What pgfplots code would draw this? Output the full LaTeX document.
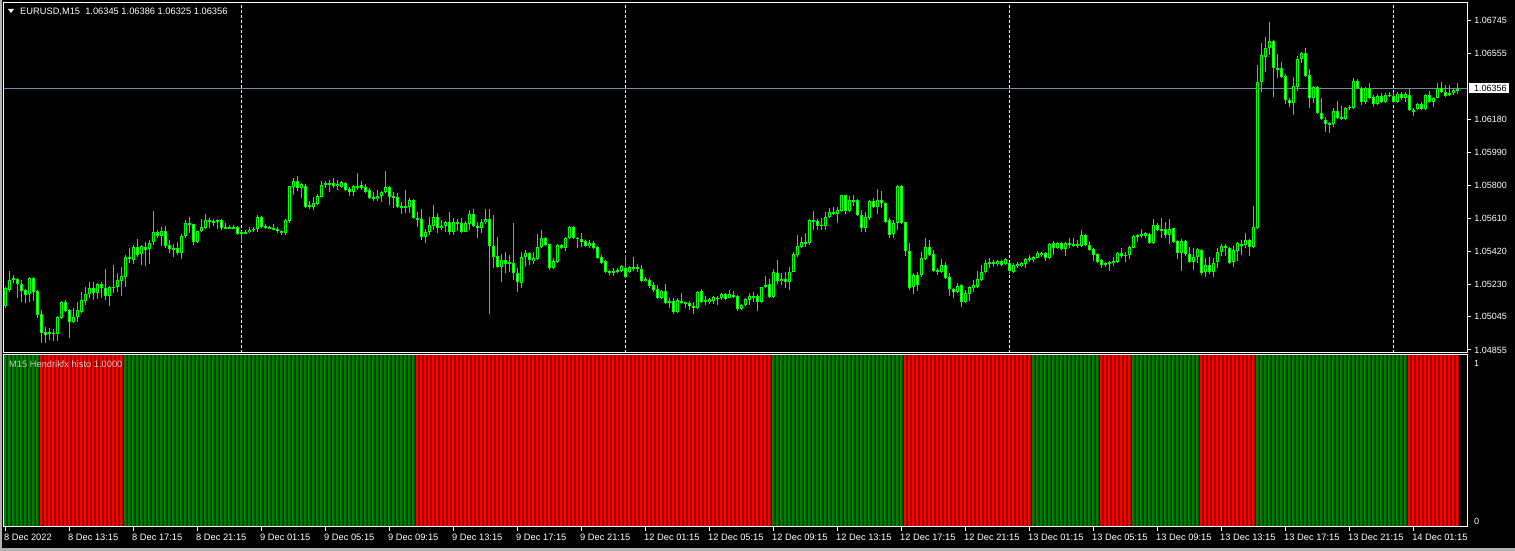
\documentclass[border=0pt]{standalone}
\usepackage{pgfplots}
\usepackage{pgfplotstable}
\usepackage{fontspec}
\setmainfont{Liberation Sans}
\pgfplotsset{compat=1.18}
\definecolor{lime}{RGB}{0,255,0}
\definecolor{hgreen}{RGB}{0,128,0}
\definecolor{hred}{RGB}{255,0,0}
\definecolor{pline}{RGB}{119,136,153}
\definecolor{lbl}{RGB}{205,205,205}
\pgfplotstableread{
i O H L C up
0 1.05108 1.05217 1.05096 1.05211 1
1 1.05199 1.05308 1.05188 1.05257 1
2 1.05257 1.05285 1.05240 1.05268 1
3 1.05263 1.05268 1.05154 1.05234 1
4 1.05234 1.05257 1.05131 1.05194 1
5 1.05199 1.05205 1.05125 1.05171 1
6 1.05176 1.05274 1.05131 1.05268 1
7 1.05268 1.05274 1.05136 1.05188 1
8 1.05194 1.05199 1.05039 1.05056 1
9 1.05062 1.05085 1.04896 1.04953 0
10 1.04958 1.04987 1.04896 1.04941 0
11 1.04947 1.04981 1.04913 1.04958 0
12 1.04953 1.04976 1.04907 1.04947 0
13 1.04947 1.05050 1.04907 1.05044 0
14 1.05039 1.05136 1.05033 1.05131 0
15 1.05131 1.05142 1.05073 1.05079 0
16 1.05085 1.05090 1.04924 1.05016 0
17 1.05016 1.05096 1.05010 1.05044 0
18 1.05044 1.05131 1.05016 1.05085 0
19 1.05073 1.05188 1.05067 1.05142 0
20 1.05136 1.05217 1.05113 1.05176 0
21 1.05176 1.05245 1.05154 1.05211 0
22 1.05211 1.05245 1.05142 1.05182 0
23 1.05182 1.05240 1.05148 1.05234 0
24 1.05234 1.05245 1.05154 1.05211 0
25 1.05211 1.05320 1.05142 1.05165 0
26 1.05165 1.05222 1.05108 1.05217 0
27 1.05217 1.05343 1.05182 1.05211 0
28 1.05217 1.05297 1.05188 1.05257 0
29 1.05251 1.05331 1.05165 1.05280 0
30 1.05274 1.05400 1.05217 1.05389 1
31 1.05389 1.05441 1.05354 1.05377 1
32 1.05372 1.05458 1.05349 1.05446 1
33 1.05446 1.05492 1.05389 1.05400 1
34 1.05406 1.05458 1.05343 1.05452 1
35 1.05446 1.05475 1.05337 1.05429 1
36 1.05435 1.05486 1.05349 1.05469 1
37 1.05475 1.05653 1.05458 1.05532 1
38 1.05532 1.05544 1.05498 1.05509 1
39 1.05509 1.05561 1.05452 1.05538 1
40 1.05538 1.05567 1.05441 1.05452 1
41 1.05458 1.05486 1.05412 1.05435 1
42 1.05435 1.05463 1.05389 1.05441 1
43 1.05441 1.05475 1.05400 1.05412 1
44 1.05412 1.05521 1.05377 1.05509 1
45 1.05509 1.05601 1.05498 1.05584 1
46 1.05584 1.05618 1.05527 1.05578 1
47 1.05578 1.05578 1.05458 1.05475 1
48 1.05475 1.05538 1.05469 1.05538 1
49 1.05538 1.05607 1.05532 1.05561 1
50 1.05555 1.05636 1.05550 1.05601 1
51 1.05601 1.05613 1.05555 1.05590 1
52 1.05595 1.05607 1.05567 1.05590 1
53 1.05590 1.05607 1.05550 1.05601 1
54 1.05601 1.05607 1.05544 1.05555 1
55 1.05561 1.05584 1.05550 1.05555 1
56 1.05555 1.05573 1.05555 1.05561 1
57 1.05561 1.05573 1.05550 1.05555 1
58 1.05561 1.05567 1.05515 1.05521 1
59 1.05532 1.05538 1.05469 1.05527 1
60 1.05527 1.05544 1.05521 1.05532 1
61 1.05532 1.05561 1.05527 1.05544 1
62 1.05544 1.05561 1.05532 1.05550 1
63 1.05550 1.05630 1.05532 1.05618 1
64 1.05618 1.05624 1.05555 1.05561 1
65 1.05567 1.05578 1.05550 1.05561 1
66 1.05561 1.05567 1.05550 1.05555 1
67 1.05555 1.05578 1.05544 1.05550 1
68 1.05550 1.05561 1.05527 1.05538 1
69 1.05538 1.05544 1.05515 1.05527 1
70 1.05527 1.05607 1.05515 1.05601 1
71 1.05595 1.05796 1.05584 1.05796 1
72 1.05791 1.05842 1.05745 1.05825 1
73 1.05825 1.05854 1.05768 1.05785 1
74 1.05785 1.05814 1.05727 1.05808 1
75 1.05796 1.05808 1.05670 1.05676 1
76 1.05676 1.05710 1.05664 1.05687 1
77 1.05676 1.05733 1.05659 1.05699 1
78 1.05693 1.05750 1.05687 1.05739 1
79 1.05733 1.05825 1.05733 1.05802 1
80 1.05808 1.05825 1.05785 1.05814 1
81 1.05814 1.05831 1.05762 1.05808 1
82 1.05814 1.05842 1.05785 1.05796 1
83 1.05796 1.05831 1.05773 1.05808 1
84 1.05791 1.05825 1.05785 1.05819 1
85 1.05814 1.05819 1.05768 1.05773 1
86 1.05779 1.05791 1.05739 1.05762 1
87 1.05762 1.05802 1.05739 1.05796 1
88 1.05796 1.05871 1.05773 1.05791 1
89 1.05802 1.05825 1.05773 1.05785 1
90 1.05791 1.05808 1.05756 1.05762 1
91 1.05773 1.05785 1.05722 1.05727 1
92 1.05727 1.05762 1.05710 1.05733 1
93 1.05722 1.05773 1.05710 1.05739 1
94 1.05739 1.05768 1.05705 1.05762 1
95 1.05762 1.05882 1.05756 1.05791 1
96 1.05791 1.05796 1.05687 1.05733 1
97 1.05733 1.05762 1.05670 1.05739 1
98 1.05733 1.05756 1.05670 1.05676 1
99 1.05682 1.05705 1.05636 1.05676 1
100 1.05676 1.05773 1.05641 1.05682 1
101 1.05676 1.05727 1.05641 1.05716 1
102 1.05716 1.05722 1.05607 1.05613 1
103 1.05613 1.05647 1.05561 1.05607 0
104 1.05607 1.05664 1.05486 1.05504 0
105 1.05504 1.05550 1.05469 1.05532 0
106 1.05532 1.05618 1.05515 1.05573 0
107 1.05567 1.05687 1.05544 1.05618 0
108 1.05618 1.05641 1.05527 1.05555 0
109 1.05555 1.05601 1.05544 1.05567 0
110 1.05567 1.05595 1.05532 1.05590 0
111 1.05590 1.05647 1.05515 1.05532 0
112 1.05532 1.05613 1.05515 1.05590 0
113 1.05590 1.05607 1.05538 1.05584 0
114 1.05584 1.05613 1.05527 1.05532 0
115 1.05532 1.05595 1.05532 1.05584 0
116 1.05578 1.05659 1.05544 1.05636 0
117 1.05636 1.05664 1.05561 1.05567 0
118 1.05567 1.05590 1.05498 1.05555 0
119 1.05555 1.05607 1.05527 1.05590 0
120 1.05590 1.05664 1.05578 1.05607 0
121 1.05607 1.05664 1.05062 1.05452 0
122 1.05452 1.05630 1.05326 1.05389 0
123 1.05395 1.05504 1.05326 1.05331 0
124 1.05331 1.05406 1.05245 1.05372 0
125 1.05372 1.05418 1.05297 1.05349 0
126 1.05349 1.05400 1.05303 1.05360 0
127 1.05354 1.05584 1.05257 1.05297 0
128 1.05297 1.05326 1.05188 1.05245 0
129 1.05240 1.05418 1.05211 1.05389 0
130 1.05389 1.05429 1.05331 1.05412 0
131 1.05412 1.05418 1.05343 1.05372 0
132 1.05366 1.05418 1.05349 1.05383 0
133 1.05377 1.05521 1.05372 1.05446 0
134 1.05446 1.05544 1.05441 1.05498 0
135 1.05498 1.05504 1.05452 1.05458 0
136 1.05463 1.05463 1.05314 1.05326 0
137 1.05326 1.05383 1.05320 1.05366 0
138 1.05360 1.05463 1.05354 1.05458 0
139 1.05458 1.05463 1.05435 1.05441 0
140 1.05441 1.05504 1.05423 1.05498 0
141 1.05498 1.05567 1.05492 1.05561 0
142 1.05561 1.05567 1.05492 1.05498 0
143 1.05498 1.05504 1.05441 1.05492 0
144 1.05492 1.05527 1.05446 1.05475 0
145 1.05481 1.05486 1.05446 1.05452 0
146 1.05452 1.05486 1.05441 1.05469 0
147 1.05469 1.05481 1.05435 1.05441 0
148 1.05446 1.05452 1.05377 1.05383 0
149 1.05389 1.05400 1.05349 1.05354 0
150 1.05366 1.05372 1.05297 1.05303 0
151 1.05303 1.05314 1.05285 1.05308 0
152 1.05308 1.05326 1.05280 1.05303 0
153 1.05303 1.05326 1.05297 1.05314 0
154 1.05308 1.05343 1.05303 1.05337 0
155 1.05326 1.05400 1.05268 1.05274 0
156 1.05303 1.05337 1.05297 1.05331 0
157 1.05331 1.05389 1.05308 1.05320 0
158 1.05320 1.05349 1.05303 1.05331 0
159 1.05320 1.05343 1.05245 1.05251 0
160 1.05251 1.05274 1.05245 1.05263 0
161 1.05257 1.05268 1.05211 1.05222 0
162 1.05228 1.05245 1.05188 1.05199 0
163 1.05205 1.05228 1.05148 1.05154 0
164 1.05154 1.05199 1.05148 1.05194 0
165 1.05194 1.05234 1.05119 1.05125 0
166 1.05125 1.05154 1.05096 1.05136 0
167 1.05136 1.05154 1.05062 1.05073 0
168 1.05073 1.05154 1.05067 1.05142 0
169 1.05136 1.05182 1.05119 1.05131 0
170 1.05131 1.05131 1.05096 1.05125 0
171 1.05125 1.05136 1.05085 1.05108 0
172 1.05108 1.05131 1.05062 1.05096 0
173 1.05096 1.05194 1.05090 1.05188 0
174 1.05194 1.05205 1.05125 1.05131 0
175 1.05131 1.05165 1.05113 1.05142 0
176 1.05131 1.05154 1.05119 1.05148 0
177 1.05136 1.05165 1.05119 1.05159 0
178 1.05154 1.05165 1.05113 1.05154 0
179 1.05154 1.05182 1.05142 1.05176 0
180 1.05176 1.05182 1.05142 1.05148 0
181 1.05154 1.05199 1.05154 1.05176 0
182 1.05171 1.05194 1.05154 1.05159 0
183 1.05165 1.05171 1.05079 1.05090 0
184 1.05090 1.05119 1.05085 1.05113 0
185 1.05113 1.05154 1.05108 1.05148 0
186 1.05142 1.05182 1.05113 1.05165 0
187 1.05165 1.05188 1.05131 1.05159 0
188 1.05165 1.05176 1.05079 1.05131 0
189 1.05131 1.05217 1.05125 1.05217 0
190 1.05217 1.05280 1.05211 1.05228 0
191 1.05234 1.05263 1.05154 1.05159 0
192 1.05159 1.05320 1.05154 1.05303 1
193 1.05297 1.05372 1.05234 1.05251 1
194 1.05251 1.05297 1.05228 1.05263 1
195 1.05263 1.05303 1.05211 1.05245 1
196 1.05245 1.05331 1.05199 1.05303 1
197 1.05303 1.05418 1.05303 1.05406 1
198 1.05400 1.05515 1.05389 1.05452 1
199 1.05446 1.05504 1.05441 1.05475 1
200 1.05475 1.05527 1.05446 1.05469 1
201 1.05469 1.05607 1.05458 1.05601 1
202 1.05601 1.05653 1.05544 1.05590 1
203 1.05595 1.05607 1.05544 1.05567 1
204 1.05567 1.05613 1.05544 1.05573 1
205 1.05567 1.05647 1.05544 1.05618 1
206 1.05618 1.05670 1.05613 1.05647 1
207 1.05647 1.05676 1.05630 1.05636 1
208 1.05636 1.05676 1.05584 1.05659 1
209 1.05653 1.05745 1.05647 1.05745 1
210 1.05745 1.05745 1.05636 1.05653 1
211 1.05653 1.05739 1.05647 1.05716 1
212 1.05716 1.05745 1.05682 1.05710 1
213 1.05716 1.05722 1.05624 1.05630 1
214 1.05630 1.05659 1.05532 1.05555 1
215 1.05555 1.05647 1.05532 1.05618 1
216 1.05613 1.05716 1.05601 1.05710 1
217 1.05710 1.05727 1.05670 1.05676 1
218 1.05676 1.05779 1.05636 1.05716 1
219 1.05716 1.05768 1.05670 1.05699 1
220 1.05699 1.05705 1.05584 1.05590 1
221 1.05601 1.05613 1.05498 1.05515 1
222 1.05521 1.05601 1.05498 1.05584 1
223 1.05584 1.05802 1.05544 1.05796 1
224 1.05796 1.05802 1.05578 1.05584 1
225 1.05590 1.05590 1.05395 1.05423 0
226 1.05423 1.05469 1.05199 1.05211 0
227 1.05217 1.05297 1.05176 1.05285 0
228 1.05285 1.05303 1.05194 1.05228 0
229 1.05285 1.05418 1.05274 1.05383 0
230 1.05377 1.05498 1.05372 1.05446 0
231 1.05446 1.05486 1.05395 1.05400 0
232 1.05406 1.05429 1.05303 1.05308 0
233 1.05308 1.05326 1.05285 1.05314 0
234 1.05303 1.05377 1.05297 1.05343 0
235 1.05343 1.05360 1.05263 1.05268 0
236 1.05274 1.05297 1.05165 1.05205 0
237 1.05205 1.05211 1.05154 1.05188 0
238 1.05188 1.05240 1.05182 1.05222 0
239 1.05228 1.05234 1.05102 1.05131 0
240 1.05131 1.05199 1.05125 1.05182 0
241 1.05176 1.05222 1.05136 1.05217 0
242 1.05211 1.05257 1.05188 1.05228 0
243 1.05217 1.05308 1.05211 1.05263 0
244 1.05257 1.05343 1.05251 1.05303 0
245 1.05303 1.05372 1.05297 1.05354 0
246 1.05349 1.05383 1.05326 1.05360 0
247 1.05360 1.05372 1.05331 1.05349 0
248 1.05349 1.05372 1.05337 1.05366 0
249 1.05366 1.05372 1.05337 1.05343 0
250 1.05349 1.05383 1.05343 1.05377 0
251 1.05354 1.05360 1.05291 1.05308 0
252 1.05303 1.05354 1.05297 1.05343 0
253 1.05337 1.05360 1.05326 1.05349 0
254 1.05337 1.05360 1.05331 1.05354 0
255 1.05349 1.05383 1.05326 1.05377 0
256 1.05372 1.05400 1.05360 1.05383 0
257 1.05372 1.05395 1.05360 1.05389 1
258 1.05383 1.05423 1.05383 1.05412 1
259 1.05400 1.05418 1.05389 1.05412 1
260 1.05412 1.05418 1.05366 1.05383 1
261 1.05383 1.05469 1.05377 1.05463 1
262 1.05469 1.05481 1.05400 1.05441 1
263 1.05441 1.05475 1.05435 1.05469 1
264 1.05469 1.05475 1.05429 1.05435 1
265 1.05435 1.05475 1.05395 1.05469 1
266 1.05469 1.05498 1.05441 1.05458 1
267 1.05458 1.05498 1.05446 1.05463 1
268 1.05463 1.05486 1.05441 1.05452 1
269 1.05452 1.05544 1.05446 1.05515 1
270 1.05515 1.05521 1.05452 1.05458 1
271 1.05458 1.05475 1.05423 1.05429 1
272 1.05435 1.05441 1.05366 1.05400 1
273 1.05406 1.05412 1.05354 1.05360 1
274 1.05372 1.05377 1.05326 1.05343 0
275 1.05343 1.05360 1.05331 1.05354 0
276 1.05349 1.05366 1.05308 1.05360 0
277 1.05354 1.05389 1.05337 1.05366 0
278 1.05360 1.05418 1.05354 1.05412 0
279 1.05412 1.05441 1.05383 1.05395 0
280 1.05400 1.05418 1.05360 1.05400 0
281 1.05400 1.05452 1.05377 1.05446 0
282 1.05441 1.05515 1.05441 1.05509 1
283 1.05504 1.05521 1.05475 1.05515 1
284 1.05515 1.05550 1.05498 1.05515 1
285 1.05509 1.05532 1.05498 1.05527 1
286 1.05521 1.05527 1.05463 1.05469 1
287 1.05469 1.05607 1.05463 1.05573 1
288 1.05573 1.05584 1.05538 1.05544 1
289 1.05544 1.05613 1.05498 1.05544 1
290 1.05550 1.05590 1.05498 1.05515 1
291 1.05515 1.05607 1.05463 1.05550 1
292 1.05555 1.05555 1.05469 1.05475 1
293 1.05481 1.05486 1.05377 1.05412 1
294 1.05412 1.05492 1.05308 1.05481 1
295 1.05481 1.05486 1.05395 1.05406 1
296 1.05406 1.05446 1.05354 1.05360 1
297 1.05360 1.05441 1.05314 1.05389 1
298 1.05389 1.05441 1.05354 1.05435 1
299 1.05429 1.05435 1.05285 1.05297 0
300 1.05303 1.05383 1.05274 1.05343 0
301 1.05343 1.05389 1.05291 1.05303 0
302 1.05303 1.05383 1.05274 1.05354 0
303 1.05360 1.05441 1.05326 1.05418 0
304 1.05418 1.05463 1.05395 1.05452 0
305 1.05452 1.05463 1.05395 1.05446 0
306 1.05441 1.05446 1.05349 1.05354 0
307 1.05360 1.05452 1.05331 1.05429 0
308 1.05423 1.05475 1.05366 1.05469 0
309 1.05463 1.05486 1.05400 1.05458 0
310 1.05458 1.05527 1.05441 1.05486 0
311 1.05486 1.05492 1.05395 1.05446 0
312 1.05446 1.05682 1.05441 1.05561 0
313 1.05555 1.06491 1.05550 1.06393 1
314 1.06393 1.06617 1.06336 1.06548 1
315 1.06537 1.06652 1.06451 1.06589 1
316 1.06589 1.06738 1.06548 1.06629 1
317 1.06629 1.06634 1.06307 1.06474 1
318 1.06474 1.06554 1.06416 1.06468 1
319 1.06474 1.06508 1.06416 1.06422 1
320 1.06428 1.06439 1.06267 1.06290 1
321 1.06290 1.06302 1.06250 1.06273 1
322 1.06273 1.06422 1.06204 1.06370 1
323 1.06365 1.06543 1.06342 1.06525 1
324 1.06525 1.06566 1.06502 1.06560 1
325 1.06560 1.06589 1.06422 1.06428 1
326 1.06434 1.06468 1.06244 1.06302 1
327 1.06302 1.06370 1.06273 1.06365 1
328 1.06365 1.06370 1.06210 1.06215 1
329 1.06215 1.06302 1.06175 1.06181 1
330 1.06175 1.06192 1.06106 1.06152 1
331 1.06152 1.06164 1.06101 1.06158 1
332 1.06152 1.06244 1.06135 1.06227 1
333 1.06227 1.06284 1.06181 1.06187 1
334 1.06187 1.06256 1.06175 1.06192 1
335 1.06181 1.06250 1.06175 1.06244 1
336 1.06244 1.06261 1.06233 1.06250 1
337 1.06244 1.06416 1.06238 1.06399 1
338 1.06399 1.06411 1.06353 1.06359 1
339 1.06359 1.06365 1.06261 1.06279 1
340 1.06279 1.06365 1.06267 1.06359 1
341 1.06359 1.06388 1.06296 1.06302 1
342 1.06307 1.06319 1.06250 1.06267 1
343 1.06267 1.06324 1.06261 1.06313 1
344 1.06313 1.06330 1.06273 1.06279 1
345 1.06279 1.06330 1.06273 1.06319 1
346 1.06319 1.06336 1.06307 1.06313 1
347 1.06313 1.06336 1.06273 1.06279 1
348 1.06279 1.06336 1.06273 1.06324 1
349 1.06324 1.06336 1.06290 1.06302 1
350 1.06302 1.06336 1.06279 1.06324 1
351 1.06319 1.06359 1.06227 1.06233 0
352 1.06233 1.06244 1.06198 1.06227 0
353 1.06238 1.06273 1.06233 1.06267 0
354 1.06267 1.06279 1.06233 1.06238 0
355 1.06238 1.06324 1.06233 1.06319 0
356 1.06319 1.06342 1.06273 1.06279 0
357 1.06279 1.06307 1.06250 1.06302 0
358 1.06302 1.06388 1.06302 1.06359 0
359 1.06359 1.06393 1.06330 1.06336 0
360 1.06336 1.06376 1.06307 1.06313 0
361 1.06319 1.06376 1.06313 1.06330 0
362 1.06330 1.06359 1.06319 1.06347 0
363 1.06345 1.06386 1.06325 1.06356 0
}\data
\newcommand{\mtfont}{\fontsize{9.3}{11}\selectfont}
\begin{document}
\begin{tikzpicture}[x=1pt,y=1pt]
\useasboundingbox (0,0) rectangle (1515,551);
\fill[black] (0,0) rectangle (1515,551);
% ---------- price panel ----------
\begin{axis}[at={(3pt,198pt)}, anchor=south west, scale only axis,
  width=1464pt, height=350pt,
  xmin=-0.5, xmax=365.5, ymin=1.048378, ymax=1.068468,
  axis on top,
  axis line style={white, line width=1pt},
  xtick=\empty,
  ytick={1.04855,1.05045,1.05230,1.05420,1.05610,1.05800,1.05990,1.06180,1.06555,1.06745},
  yticklabels={1.04855,1.05045,1.05230,1.05420,1.05610,1.05800,1.05990,1.06180,1.06555,1.06745},
  ytick pos=right, yticklabel pos=right,
  tick align=outside, major tick length=4pt,
  tick style={white, line width=1pt},
  yticklabel style={anchor=west, inner sep=0pt, xshift=3pt, text=white, font=\fontsize{9}{10}\selectfont},
]
\pgfplotsinvokeforeach{59,155,251,347}{
  \draw[white, line width=1pt, dash pattern=on 3pt off 2pt] (axis cs:#1,1.048378) -- (axis cs:#1,1.068468);
}
\draw[pline, line width=1pt] (axis cs:-0.5,1.06356) -- (axis cs:365.5,1.06356);
% wicks
\addplot[draw=none, mark=none, forget plot,
  error bars/.cd, y dir=plus, y explicit, error mark=none,
  error bar style={draw=lime, line width=1pt}]
  table[x=i, y=L, y error plus expr=\thisrow{H}-\thisrow{L}] {\data};
% body outline
\addplot[draw=none, mark=none, forget plot,
  error bars/.cd, y dir=both, y explicit, error mark=none,
  error bar style={draw=lime, line width=3pt}]
  table[x=i, y expr=(\thisrow{O}+\thisrow{C})/2,
        y error expr={max(abs(\thisrow{O}-\thisrow{C})/2,0.00003)}] {\data};
% bear interior (white)
\addplot[draw=none, mark=none, forget plot,
  error bars/.cd, y dir=both, y explicit, error mark=none,
  error bar style={draw=white, line width=1pt}]
  table[x=i, y expr=(\thisrow{O}+\thisrow{C})/2,
        y error expr={(\thisrow{O}>\thisrow{C})*max(abs(\thisrow{O}-\thisrow{C})/2-0.0000574,0)}] {\data};
% bull interior (black)
\addplot[draw=none, mark=none, forget plot,
  error bars/.cd, y dir=both, y explicit, error mark=none,
  error bar style={draw=black, line width=1pt}]
  table[x=i, y expr=(\thisrow{O}+\thisrow{C})/2,
        y error expr={(\thisrow{C}>\thisrow{O})*max(abs(\thisrow{O}-\thisrow{C})/2-0.0000574,0)}] {\data};
\end{axis}
% ---------- indicator panel ----------
\begin{axis}[at={(3pt,24pt)}, anchor=south west, scale only axis,
  width=1464pt, height=172pt,
  xmin=-0.5, xmax=365.5, ymin=0, ymax=1,
  axis on top,
  axis line style={white, line width=1pt},
  ytick=\empty,
  xtick={0,16,...,352},
  xticklabels={8 Dec 2022,8 Dec 13:15,8 Dec 17:15,8 Dec 21:15,9 Dec 01:15,9 Dec 05:15,9 Dec 09:15,9 Dec 13:15,9 Dec 17:15,9 Dec 21:15,12 Dec 01:15,12 Dec 05:15,12 Dec 09:15,12 Dec 13:15,12 Dec 17:15,12 Dec 21:15,13 Dec 01:15,13 Dec 05:15,13 Dec 09:15,13 Dec 13:15,13 Dec 17:15,13 Dec 21:15,14 Dec 01:15},
  xtick pos=bottom, xticklabel pos=bottom,
  tick align=outside, major tick length=4pt,
  tick style={white, line width=1pt},
  xticklabel style={anchor=north west, inner sep=0pt, xshift=-1pt, yshift=-3pt, text=white, font=\mtfont},
]
\addplot[ybar, bar width=3pt, bar shift=0pt, fill=hgreen, draw=none]
  table[x=i, y=up] {\data};
\addplot[ybar, bar width=3pt, bar shift=0pt, fill=hred, draw=none]
  table[x=i, y expr=1-\thisrow{up}] {\data};
\end{axis}
% ---------- texts ----------
\fill[white] (8,542) -- (14,542) -- (11,538) -- cycle;
\node[anchor=west, inner sep=0pt, text=white, font=\mtfont] at (20,539) {EURUSD,M15\ \ 1.06345 1.06386 1.06325 1.06356};
\node[anchor=west, inner sep=0pt, text=lbl, font=\mtfont] at (9,187) {M15 Hendrikfx histo 1.0000};
\fill[white] (1469,458) rectangle (1509,468);
\node[anchor=west, inner sep=0pt, text=black, font=\fontsize{9}{10}\selectfont] at (1474,463) {1.06356};
\node[anchor=west, inner sep=0pt, text=white, font=\fontsize{9}{10}\selectfont] at (1474,188) {1};
\node[anchor=west, inner sep=0pt, text=white, font=\fontsize{9}{10}\selectfont] at (1474,30) {0};
\fill[gray!60] (0,0) rectangle (2,551);
\fill[gray!60] (0,0) rectangle (1515,3);
\end{tikzpicture}
\end{document}
